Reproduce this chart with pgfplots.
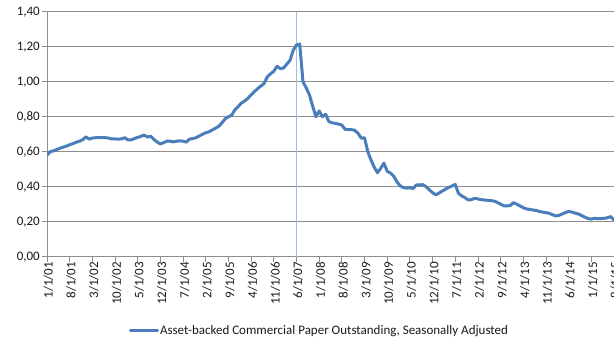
\documentclass[border=0pt]{standalone}
\usepackage{pgfplots}
\pgfplotsset{compat=1.18}
\usepackage{pgfplotstable}
\usepackage{fontspec}
\setmainfont{Carlito}

\definecolor{abcp}{HTML}{4A7EBB}
\definecolor{marker}{HTML}{9DBFE3}
\definecolor{gridgray}{HTML}{8E8E8E}

% Asset-backed commercial paper outstanding, monthly from Jan 2001 (index 0)
\pgfplotstableread{
m v
0 0.580
1 0.600
2 0.605
3 0.612
4 0.620
5 0.626
6 0.632
7 0.640
8 0.646
9 0.654
10 0.660
11 0.668
12 0.685
13 0.672
14 0.678
15 0.680
16 0.680
17 0.680
18 0.680
19 0.678
20 0.673
21 0.673
22 0.672
23 0.673
24 0.680
25 0.667
26 0.668
27 0.675
28 0.682
29 0.688
30 0.695
31 0.684
32 0.688
33 0.670
34 0.655
35 0.644
36 0.652
37 0.660
38 0.660
39 0.656
40 0.660
41 0.662
42 0.660
43 0.655
44 0.672
45 0.675
46 0.680
47 0.690
48 0.700
49 0.708
50 0.714
51 0.724
52 0.734
53 0.745
54 0.765
55 0.788
56 0.800
57 0.808
58 0.840
59 0.858
60 0.878
61 0.890
62 0.905
63 0.925
64 0.943
65 0.960
66 0.975
67 0.990
68 1.028
69 1.045
70 1.060
71 1.088
72 1.075
73 1.078
74 1.100
75 1.122
76 1.180
77 1.210
78 1.215
79 1.000
80 0.965
81 0.925
82 0.860
83 0.800
84 0.833
85 0.800
86 0.814
87 0.772
88 0.765
89 0.762
90 0.758
91 0.752
92 0.728
93 0.726
94 0.726
95 0.722
96 0.705
97 0.677
98 0.680
99 0.600
100 0.553
101 0.511
102 0.480
103 0.505
104 0.535
105 0.488
106 0.478
107 0.460
108 0.428
109 0.405
110 0.395
111 0.392
112 0.394
113 0.390
114 0.410
115 0.410
116 0.412
117 0.400
118 0.382
119 0.366
120 0.353
121 0.364
122 0.375
123 0.386
124 0.396
125 0.404
126 0.413
127 0.362
128 0.347
129 0.338
130 0.324
131 0.326
132 0.334
133 0.330
134 0.326
135 0.324
136 0.322
137 0.320
138 0.318
139 0.310
140 0.300
141 0.291
142 0.290
143 0.293
144 0.309
145 0.300
146 0.290
147 0.280
148 0.273
149 0.270
150 0.267
151 0.264
152 0.258
153 0.255
154 0.252
155 0.248
156 0.240
157 0.233
158 0.236
159 0.244
160 0.252
161 0.259
162 0.255
163 0.249
164 0.244
165 0.235
166 0.226
167 0.218
168 0.215
169 0.219
170 0.218
171 0.218
172 0.219
173 0.223
174 0.229
175 0.210
176 0.212
}\abcpdata

\begin{document}
\begin{tikzpicture}
\begin{axis}[
  scale only axis,
  width=583.2bp, height=245bp,
  xmin=0, xmax=180,
  ymin=0, ymax=1.4,
  axis x line*=bottom,
  axis y line*=left,
  axis line style={gridgray, line width=0.8bp},
  tick align=outside,
  major tick length=5bp,
  tick style={gridgray, line width=0.8bp},
  ytick={0,0.2,...,1.41},
  ymajorgrids,
  major grid style={gridgray, line width=0.8bp},
  xtick={0,7,...,175},
  xticklabels={1/1/01,8/1/01,3/1/02,10/1/02,5/1/03,12/1/03,7/1/04,2/1/05,9/1/05,4/1/06,11/1/06,6/1/07,1/1/08,8/1/08,3/1/09,10/1/09,5/1/10,12/1/10,7/1/11,2/1/12,9/1/12,4/1/13,11/1/13,6/1/14,1/1/15,8/1/15},
  ticklabel style={font=\fontsize{13bp}{15bp}\selectfont, text=black!90},
  xticklabel style={rotate=90, anchor=east, inner sep=0pt, yshift=-1.5bp},
  yticklabel style={anchor=east, inner sep=0pt, xshift=-2bp,
    /pgf/number format/.cd, fixed, fixed zerofill, precision=2, use comma, assume math mode=true},
  legend style={at={(0.4664,-0.3008)}, anchor=center, draw=none, fill=none,
    font=\fontsize{13bp}{15bp}\selectfont, text=black!90,
    nodes={inner sep=1bp}},
  legend cell align=left,
  legend image code/.code={\draw[#1] (0bp,0bp) -- (27bp,0bp);},
]
\addplot[marker, line width=1.1bp, forget plot] coordinates {(77,0) (77,1.4)};
\addplot[abcp, line width=3bp, line join=round, line cap=round] table[x=m, y=v] {\abcpdata};
\addlegendentry{Asset-backed Commercial Paper Outstanding, Seasonally Adjusted}
\end{axis}
\pgfresetboundingbox
\useasboundingbox (-47bp,-85.3bp) rectangle (567bp,256.7bp);
\end{tikzpicture}
\end{document}
